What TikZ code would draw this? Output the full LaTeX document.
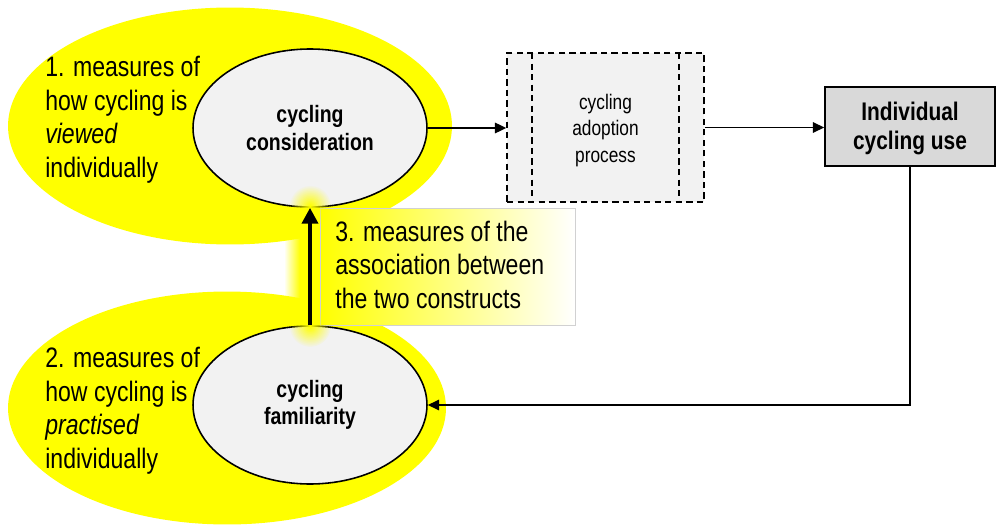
\documentclass[tikz,border=0pt]{standalone}
\usepackage{fontspec}
\setmainfont{Liberation Sans}[FakeStretch=0.82]
\usetikzlibrary{shapes.geometric,fadings,arrows.meta}

\definecolor{zone}{RGB}{255,255,0}
\definecolor{paper}{RGB}{242,242,242}
\definecolor{usefill}{RGB}{217,217,217}

\tikzfading[name=glowleft, left color=transparent!100, right color=transparent!0]
\tikzfading[name=glowspot, inner color=transparent!0, outer color=transparent!100]

\tikzset{
  zoneblob/.style={ellipse, fill=zone, inner sep=0pt},
  construct/.style={ellipse, draw=black, line width=0.9pt, fill=paper, inner sep=0pt,
    minimum width=4.68cm, minimum height=3.16cm, align=center,
    font=\fontsize{13.5}{15.5}\selectfont\bfseries},
  % anchored at the baseline of the last line
  note/.style={anchor=base west, inner sep=0pt, align=left,
    font=\fontsize{16}{19}\selectfont},
  flow/.style={-{Triangle[length=6.5pt,width=6pt]}, line width=0.9pt},
}

\begin{document}
\begin{tikzpicture}[x=0.02cm, y=-0.02cm]
  \useasboundingbox (0,0) rectangle (996,527);

  % yellow zones behind the two constructs
  \node[zoneblob, minimum width=8.88cm, minimum height=4.74cm] (viewzone) at (230,126) {};
  \node[zoneblob, minimum width=8.76cm, minimum height=4.66cm] (practzone) at (227,408) {};

  % glow along the association arrow
  \fill[zone, path fading=glowleft] (284,205) rectangle (300,325);
  \fill[zone] (300,205) rectangle (325,325);

  % association text box
  \node[draw=black!18, line width=0.5pt, left color=zone, middle color=zone!16, right color=white,
        minimum width=5.1cm, minimum height=2.34cm, inner sep=0pt] (assocbox) at (447.5,266.5) {};
  \node[note] (assoctext) at (335,308) {3. measures of the\\association between\\the two constructs};

  % constructs
  \node[construct] (consid) at (310,128) {cycling\\consideration};
  \node[construct] (famil) at (310,405) {cycling\\familiarity};

  % glow at the arrow ends
  \fill[zone, path fading=glowspot] (310,206) circle (0.42cm);
  \fill[zone, path fading=glowspot] (310,326) circle (0.42cm);

  % zone labels
  \node[note] (viewtext) at (45,177) {1. measures of\\how cycling is\\\textit{viewed}\\individually};
  \node[note] (practtext) at (45,468) {2. measures of\\how cycling is\\\textit{practised}\\individually};

  % adoption process (dashed)
  \node[draw=black, dash pattern=on 3.6pt off 2.4pt, line width=0.8pt, fill=paper,
        minimum width=3.94cm, minimum height=2.98cm, inner sep=0pt, align=center,
        font=\fontsize{12}{15}\selectfont] (adopt) at (605.5,127.5) {};
  \node[align=center, inner sep=0pt, font=\fontsize{12}{15}\selectfont] (adopttext)
        at (605.5,130.5) {cycling\\adoption\\process};
  \coordinate (adoptinl) at (532,53);
  \coordinate (adoptinr) at (679,53);
  \draw[dash pattern=on 3.6pt off 2.4pt, line width=0.8pt] (adoptinl) -- (adoptinl |- adopt.south);
  \draw[dash pattern=on 3.6pt off 2.4pt, line width=0.8pt] (adoptinr) -- (adoptinr |- adopt.south);

  % outcome
  \node[draw=black, line width=0.9pt, fill=usefill, minimum width=3.4cm, minimum height=1.58cm,
        inner sep=0pt, align=center, font=\fontsize{14.5}{16.5}\selectfont\bfseries]
        (use) at (910,126.5) {};
  \node[align=center, inner sep=0pt, font=\fontsize{14.5}{16.5}\selectfont\bfseries]
        (usetext) at (910,128.5) {Individual\\cycling use};

  % connectors
  \draw[flow] (consid.east) -- (adopt.west |- consid.east);
  \draw[flow] (adopt.east) -- (use.west |- adopt.east);
  \draw[flow] (use.south) |- (famil.east);
  \draw[-{Triangle[length=9pt,width=9pt]}, line width=2.8pt] (famil.north) -- (consid.south);
\end{tikzpicture}
\end{document}
